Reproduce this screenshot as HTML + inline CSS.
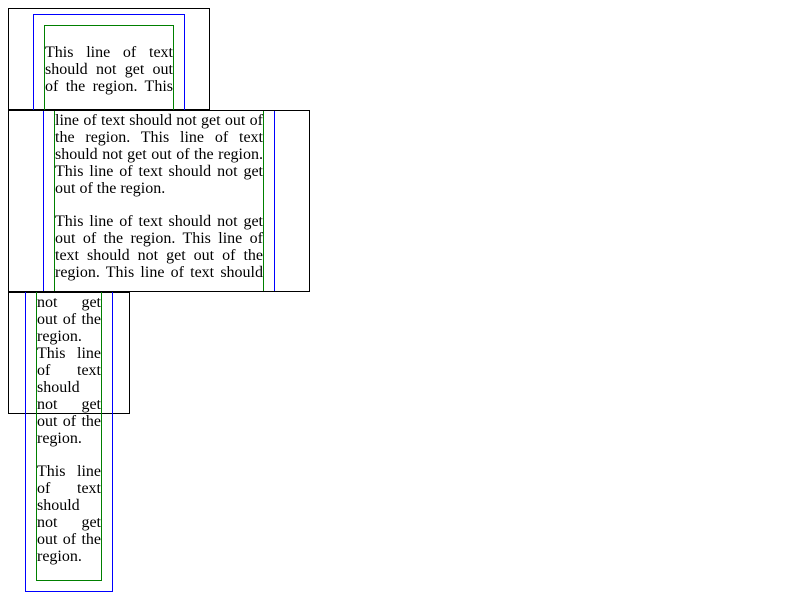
<!DOCTYPE html>
<html><head><style>
body{margin:0;width:800px;height:600px;background:#fff;position:relative;overflow:hidden;font-family:"Liberation Serif",serif;font-size:16px;color:#000}
.b{position:absolute;box-sizing:border-box}
.l{position:absolute;height:17px;line-height:17px;white-space:nowrap;text-align:justify;text-align-last:justify}
.n{text-align-last:left}
</style></head><body>
<div class="b" style="left:8px;top:8px;width:202px;height:102px;border:1px solid #000"></div>
<div class="b" style="left:33px;top:14px;width:152px;height:96px;border:1px solid #00f;border-bottom:none"></div>
<div class="b" style="left:44px;top:25px;width:130px;height:85px;border:1px solid #008000;border-bottom:none"></div>

<div class="b" style="left:8px;top:110px;width:302px;height:182px;border:1px solid #000"></div>
<div class="b" style="left:43px;top:111px;width:232px;height:180px;border-left:1px solid #00f;border-right:1px solid #00f"></div>
<div class="b" style="left:54px;top:111px;width:210px;height:180px;border-left:1px solid #008000;border-right:1px solid #008000"></div>

<div class="b" style="left:8px;top:292px;width:122px;height:122px;border:1px solid #000"></div>
<div class="b" style="left:25px;top:292px;width:88px;height:300px;border:1px solid #00f;border-top:none"></div>
<div class="b" style="left:36px;top:292px;width:66px;height:289px;border:1px solid #008000;border-top:none"></div>

<div class="l" style="left:45px;top:44px;width:128px">This line of text</div>
<div class="l" style="left:45px;top:61px;width:128px">should not get out</div>
<div class="l" style="left:45px;top:78px;width:128px">of the region. This</div>

<div class="l" style="left:55px;top:112px;width:208px">line of text should not get out of</div>
<div class="l" style="left:55px;top:129px;width:208px">the region. This line of text</div>
<div class="l" style="left:55px;top:146px;width:208px">should not get out of the region.</div>
<div class="l" style="left:55px;top:163px;width:208px">This line of text should not get</div>
<div class="l n" style="left:55px;top:180px;width:208px">out of the region.</div>
<div class="l" style="left:55px;top:213px;width:208px">This line of text should not get</div>
<div class="l" style="left:55px;top:230px;width:208px">out of the region. This line of</div>
<div class="l" style="left:55px;top:247px;width:208px">text should not get out of the</div>
<div class="l" style="left:55px;top:264px;width:208px">region. This line of text should</div>

<div class="l" style="left:37px;top:294px;width:64px">not get</div>
<div class="l" style="left:37px;top:311px;width:64px">out of the</div>
<div class="l n" style="left:37px;top:328px;width:64px">region.</div>
<div class="l" style="left:37px;top:345px;width:64px">This line</div>
<div class="l" style="left:37px;top:362px;width:64px">of text</div>
<div class="l n" style="left:37px;top:379px;width:64px">should</div>
<div class="l" style="left:37px;top:396px;width:64px">not get</div>
<div class="l" style="left:37px;top:413px;width:64px">out of the</div>
<div class="l n" style="left:37px;top:430px;width:64px">region.</div>
<div class="l" style="left:37px;top:463px;width:64px">This line</div>
<div class="l" style="left:37px;top:480px;width:64px">of text</div>
<div class="l n" style="left:37px;top:497px;width:64px">should</div>
<div class="l" style="left:37px;top:514px;width:64px">not get</div>
<div class="l" style="left:37px;top:531px;width:64px">out of the</div>
<div class="l n" style="left:37px;top:548px;width:64px">region.</div>
</body></html>
